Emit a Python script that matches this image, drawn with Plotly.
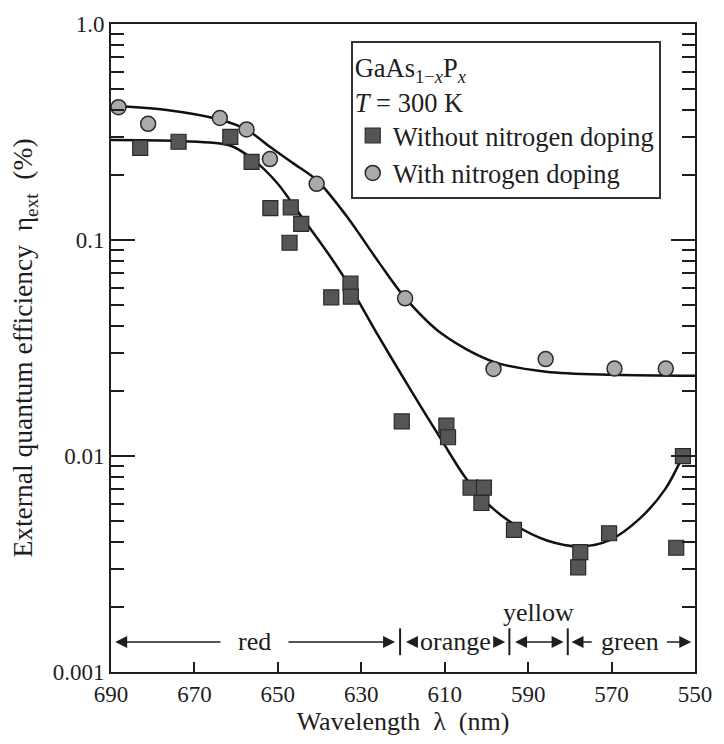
import plotly.graph_objects as go

# ---------------- data ----------------
# measured points: without nitrogen doping (squares)
wl_noN = [683.0, 673.8, 661.4, 656.3, 651.8, 646.9, 644.4, 647.2, 632.6, 637.2, 632.5,
          620.3, 609.6, 609.2, 603.8, 600.6, 601.2, 593.4, 577.5, 578.0, 570.6, 554.5, 552.9]
eta_noN = [0.267, 0.285, 0.300, 0.230, 0.1406, 0.1416, 0.1187, 0.0971, 0.0629, 0.0543, 0.0547,
           0.01446, 0.01382, 0.01221, 0.00714, 0.00714, 0.00606, 0.00455, 0.00359, 0.00305,
           0.00439, 0.00376, 0.00999]

# measured points: with nitrogen doping (circles)
wl_N = [688.2, 681.1, 663.9, 657.5, 651.9, 640.7, 619.5, 598.3, 585.8, 569.3, 557.0]
eta_N = [0.412, 0.345, 0.367, 0.325, 0.237, 0.182, 0.0537, 0.0253, 0.0281, 0.0254, 0.0254]

# fitted curves
fit_wl_N = [690.0, 677.1, 663.85, 657.46, 652.0, 646.3, 640.65, 633.55, 625.74, 619.59,
            610.59, 598.28, 585.74, 569.41, 550.0]
fit_eta_N = [0.4178, 0.4006, 0.3602, 0.3242, 0.2709, 0.2263, 0.1890, 0.1292, 0.07856, 0.05426,
             0.03667, 0.02729, 0.02455, 0.02377, 0.02352]

fit_wl_noN = [690.0, 673.79, 661.48, 656.27, 650.12, 644.44, 637.57, 632.6, 626.45, 618.64,
              610.59, 605.15, 599.7, 593.31, 585.5, 577.46, 570.59, 563.25, 557.1, 552.6]
fit_eta_noN = [0.2902, 0.2871, 0.2737, 0.2385, 0.1831, 0.1292, 0.08460, 0.06032, 0.03747,
               0.02095, 0.01171, 0.008000, 0.006012, 0.004816, 0.004065, 0.003815, 0.004065,
               0.005131, 0.007046, 0.01031]

# colour bands
band_edges = [690, 620.7, 594.5, 580.5, 550]
band_names = ["red", "orange", "yellow", "green"]

x_ticks = [690, 670, 650, 630, 610, 590, 570, 550]
y_ticks = [0.001, 0.01, 0.1, 1.0]
y_ticktext = ["0.001", "0.01", "0.1", "1.0"]

FONT = "Liberation Serif"
INK = "#1e1e1e"

fig = go.Figure()

for fx, fy in ((fit_wl_noN, fit_eta_noN), (fit_wl_N, fit_eta_N)):
    fig.add_trace(go.Scatter(x=fx, y=fy, mode="lines",
                             line=dict(color="#111111", width=2.5, shape="spline", smoothing=0.9),
                             showlegend=False, hoverinfo="skip"))

fig.add_trace(go.Scatter(x=wl_noN, y=eta_noN, mode="markers", name="Without nitrogen doping",
                         marker=dict(symbol="square", size=15, color="#555555",
                                     line=dict(color="#2a2a2a", width=1.2))))
fig.add_trace(go.Scatter(x=wl_N, y=eta_N, mode="markers", name="With nitrogen doping",
                         marker=dict(symbol="circle", size=15, color="#aaaaaa",
                                     line=dict(color="#2a2a2a", width=1.5))))

# ---- layout geometry ----
L, R, T, B = 111, 21, 19, 72
W, H = 724, 744
pw, ph = W - L - R, H - T - B


def py(pix):  # pixel row -> paper y
    return (H - B - pix) / ph


row = py(641.7)
shapes = []
for e in band_edges[1:-1]:
    shapes.append(dict(type="line", xref="x", yref="paper", x0=e, x1=e,
                       y0=py(655), y1=py(628), line=dict(color=INK, width=2)))

annotations = []


def arrow(head, tail, both=False):
    annotations.append(dict(xref="x", yref="paper", x=head, y=row, axref="x", ayref="pixel",
                            ax=tail, ay=0, text="", showarrow=True, arrowhead=2,
                            arrowside="end+start" if both else "end",
                            arrowsize=1.6, arrowwidth=1.5, arrowcolor=INK, standoff=0,
                            startstandoff=0))


def label(text, xv, yv):
    annotations.append(dict(xref="x", yref="paper", x=xv, y=yv, text=text, showarrow=False,
                            xanchor="center", yanchor="middle",
                            font=dict(family=FONT, size=26, color=INK)))


# red
arrow(689.0, 663.4)
arrow(621.9, 647.8)
label(band_names[0], 655.6, row)
# orange
arrow(619.3, 616.5)
arrow(595.5, 598.3)
label(band_names[1], 607.4, row)
# yellow
arrow(581.5, 593.5, both=True)
label(band_names[2], 587.5, py(612))
# green
arrow(579.6, 574.4)
arrow(550.9, 557.1)
label(band_names[3], 565.5, row)

fig.update_layout(
    width=W, height=H,
    margin=dict(l=L, r=R, t=T, b=B),
    paper_bgcolor="white", plot_bgcolor="white",
    font=dict(family=FONT, size=23, color=INK),
    shapes=shapes, annotations=annotations,
    showlegend=True,
    legend=dict(x=(354 - L) / pw, y=py(36), xanchor="left", yanchor="top",
                bgcolor="white", bordercolor="#333333", borderwidth=2,
                font=dict(family=FONT, size=26.5, color=INK),
                title=dict(text="GaAs<sub>1\u2212<i>x</i></sub>P<sub><i>x</i></sub><br><i>T</i> = 300 K",
                           font=dict(family=FONT, size=26.5, color=INK)),
                entrywidth=280, entrywidthmode="pixels",
                itemsizing="trace", tracegroupgap=0),
    xaxis=dict(range=[690, 550], tickvals=x_ticks, ticks="inside", ticklen=10, tickwidth=2,
               tickcolor=INK, showline=True, linecolor=INK, linewidth=2, mirror=True,
               showgrid=False, zeroline=False,
               tickfont=dict(family=FONT, size=23, color=INK),
               title=dict(text="Wavelength  \u03bb  (nm)", font=dict(family=FONT, size=26, color=INK),
                          standoff=6)),
    yaxis=dict(type="log", range=[-3, 0], tickvals=y_ticks, ticktext=y_ticktext,
               ticks="inside", ticklen=24, tickwidth=2, tickcolor=INK,
               showline=True, linecolor=INK, linewidth=2, mirror="ticks",
               showgrid=False, zeroline=False,
               minor=dict(ticks="inside", ticklen=13, tickwidth=1.5, tickcolor=INK,
                          dtick="D1", showgrid=False),
               tickfont=dict(family=FONT, size=23, color=INK),
               title=dict(text="External quantum efficiency  \u03b7<sub>ext</sub>  (%)",
                          font=dict(family=FONT, size=27.5, color=INK), standoff=12)),
)

fig.write_html("out.html")
